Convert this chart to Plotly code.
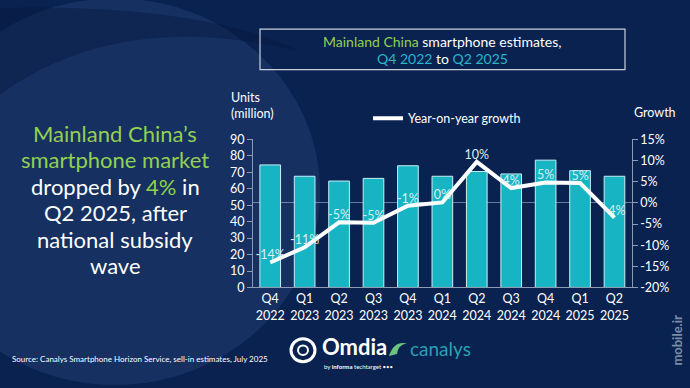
import plotly.graph_objects as go

W, H = 690, 388

# ---------------- data ----------------
quarters = ["Q4<br>2022", "Q1<br>2023", "Q2<br>2023", "Q3<br>2023", "Q4<br>2023", "Q1<br>2024",
            "Q2<br>2024", "Q3<br>2024", "Q4<br>2024", "Q1<br>2025", "Q2<br>2025"]
units_million = [74.5, 67.6, 64.7, 66.3, 74.0, 67.6, 70.5, 69.0, 77.4, 71.0, 67.6]
yoy_growth = [-14.1, -10.5, -4.6, -4.7, -0.7, 0.1, 9.7, 3.5, 4.8, 4.7, -3.5]
growth_labels = ["-14%", "-11%", "-5%", "-5%", "-1%", "0%", "10%", "4%", "5%", "5%", "-4%"]
left_ticks = [0, 10, 20, 30, 40, 50, 60, 70, 80, 90]
right_ticks = [-20, -15, -10, -5, 0, 5, 10, 15]
right_tick_text = ["-20%", "-15%", "-10%", "-5%", "0%", "5%", "10%", "15%"]

FONT = "Lato"
BAR = "#17b4c3"
GREEN = "#92d050"
TEAL = "#2bb5c8"
AXIS = "#8d9cb4"


def px(x):
    return x / W


def py(y):
    return 1 - y / H


fig = go.Figure()
fig.add_trace(go.Bar(
    x=quarters, y=units_million, width=0.6,
    marker=dict(color=BAR, line=dict(color="#c9eff3", width=1)),
    showlegend=False, hoverinfo="skip", yaxis="y"))
fig.add_trace(go.Scatter(
    x=quarters, y=yoy_growth, mode="lines+text", text=growth_labels,
    textposition="top center", textfont=dict(color="#d8eff4", size=12.5, family=FONT),
    line=dict(color="white", width=4), name="Year-on-year growth", yaxis="y2"))

shapes = []
# background lighter sweep
shapes.append(dict(type="circle", xref="paper", yref="paper", layer="below",
                   x0=px(-90), x1=px(320), y0=py(392), y1=py(-10),
                   fillcolor="rgba(70,115,175,0.18)", line=dict(width=0)))
shapes.append(dict(type="path", xref="paper", yref="paper", layer="below",
                   path=f"M {px(0)},{py(0)} L {px(0)},{py(90)} Q {px(120)},{py(0)} {px(300)},{py(45)} Q {px(200)},{py(-5)} {px(0)},{py(0)} Z",
                   fillcolor="rgba(5,20,55,0.35)", line=dict(width=0)))
# title box
shapes.append(dict(type="rect", xref="paper", yref="paper",
                   x0=px(260), x1=px(625), y0=py(64), y1=py(22),
                   line=dict(color="#c8d0dc", width=1.2), fillcolor="rgba(0,0,0,0)"))
# Omdia icon
shapes.append(dict(type="circle", xref="paper", yref="paper",
                   x0=px(291), x1=px(315), y0=py(368), y1=py(344),
                   line=dict(color="white", width=3)))
shapes.append(dict(type="circle", xref="paper", yref="paper",
                   x0=px(298), x1=px(308), y0=py(361), y1=py(351),
                   line=dict(color="white", width=2)))
# canalys swoosh
shapes.append(dict(type="path", xref="paper", yref="paper",
                   path=f"M {px(389)},{py(362)} Q {px(394)},{py(346)} {px(407)},{py(349)} Q {px(398)},{py(350)} {px(397)},{py(360)} Z",
                   fillcolor="#6cc57e", line=dict(width=0)))


def note(x, y, text, size, color="white", xanchor="center", **kw):
    d = dict(x=px(x), y=py(y), xref="paper", yref="paper", showarrow=False,
             xanchor=xanchor, yanchor="middle", text=text,
             font=dict(family=FONT, size=size, color=color))
    d.update(kw)
    return d


headline_lines = [
    f"<span style='color:{GREEN}'>Mainland China’s</span>",
    f"<span style='color:{GREEN}'>smartphone market</span>",
    f"dropped by <span style='color:{GREEN}'>4%</span> in",
    "Q2 2025, after",
    "national subsidy",
    "wave",
]
headline_y = [131, 158, 186, 213, 241, 268]

ann = [
    note(442, 35, f"<span style='color:{GREEN}'>Mainland China</span> smartphone estimates,", 14),
    note(442, 53, f"<span style='color:{TEAL}'>Q4 2022</span> to <span style='color:{TEAL}'>Q2 2025</span>", 14),
    note(229, 101, "Units<br>(million)", 12.5, xanchor="left", align="left"),
    note(632, 109, "Growth", 12.5, xanchor="left"),
    note(10, 365, "Source: Canalys Smartphone Horizon Service, sell-in estimates, July 2025",
         8, xanchor="left"),
    note(320, 352, "<b>Omdia</b>", 22, xanchor="left"),
    note(322, 373, "by <b>informa</b> techtarget •••", 6, xanchor="left"),
    note(408, 354, "canalys", 19, color="#2a9fb4", xanchor="left"),
    note(677, 346, "<b>mobile.ir</b>", 13, color="#7d8ca6", textangle=-90),
]
for t, yy in zip(headline_lines, headline_y):
    ann.append(note(115, yy, t, 22))

fig.update_layout(
    width=W, height=H, margin=dict(l=0, r=0, t=0, b=0),
    paper_bgcolor="#0a2250", plot_bgcolor="rgba(0,0,0,0)",
    font=dict(family=FONT, color="white"),
    shapes=shapes, annotations=ann,
    legend=dict(orientation="h", x=px(368), y=py(115), xanchor="left", yanchor="middle",
                bgcolor="rgba(0,0,0,0)", font=dict(family=FONT, size=12.5, color="white")),
    xaxis=dict(domain=[px(253), px(631.7)], range=[-0.5, 10.5], type="category",
               showline=True, linecolor=AXIS, linewidth=1, ticks="", showgrid=False,
               tickfont=dict(family=FONT, size=12.5, color="white"), fixedrange=True),
    yaxis=dict(domain=[py(290.7), py(136.7)], range=[0, 90], tickvals=left_ticks,
               showline=True, linecolor=AXIS, ticks="outside", ticklen=5, tickcolor=AXIS,
               showgrid=False, zeroline=False,
               tickfont=dict(family=FONT, size=12.5, color="white")),
    yaxis2=dict(overlaying="y", side="right", range=[-20, 15], tickvals=right_ticks,
                ticktext=right_tick_text, showline=True, linecolor=AXIS, ticks="outside",
                ticklen=5, tickcolor=AXIS, showgrid=False, zeroline=True,
                zerolinecolor="rgba(220,230,245,0.45)", zerolinewidth=1,
                tickfont=dict(family=FONT, size=12.5, color="white")),
)

fig.write_html("out.html", config={"displayModeBar": False},
               post_script="document.body.style.margin='0';document.body.style.overflow='hidden';")
